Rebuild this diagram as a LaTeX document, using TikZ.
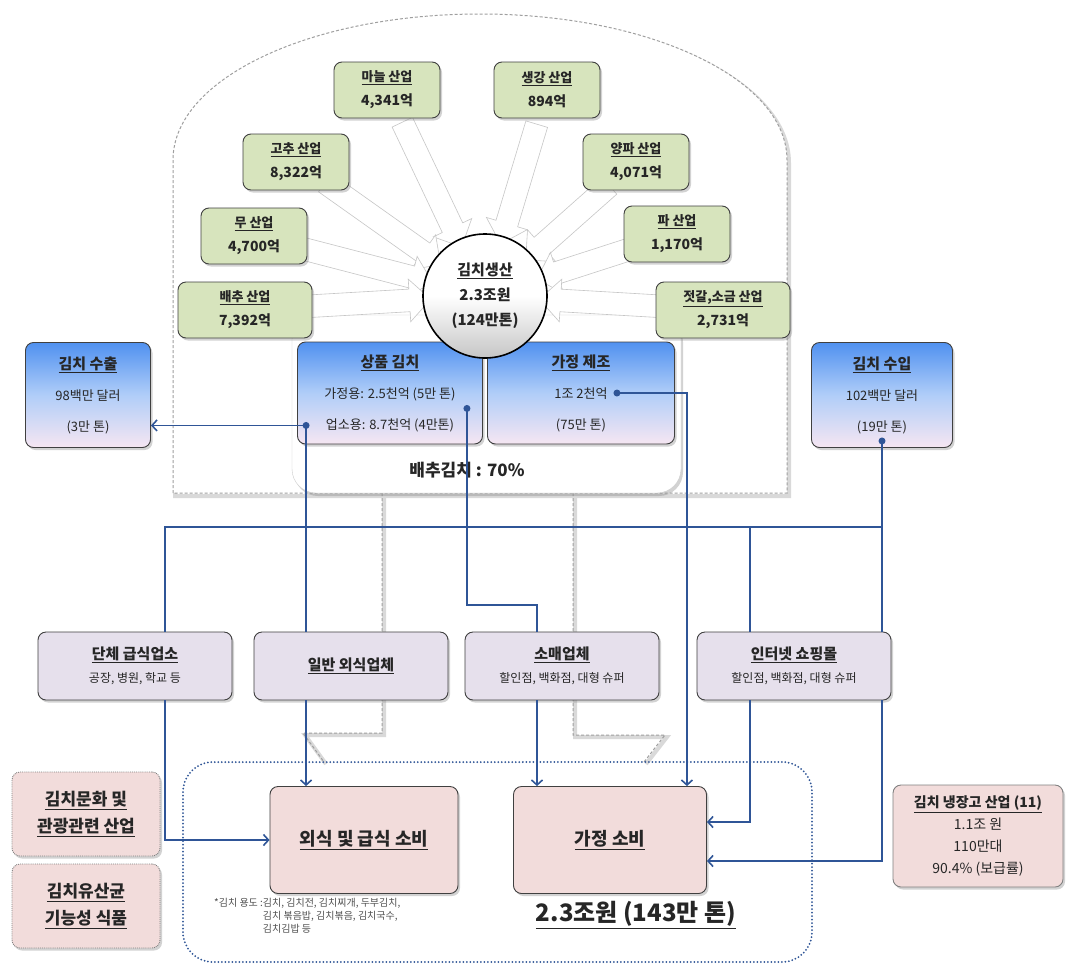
\documentclass[tikz,border=0pt]{standalone}
\usepackage{fontspec}
\setmainfont{Noto Sans CJK KR}
\usetikzlibrary{positioning,calc,shadows,shapes.arrows,arrows.meta}
\pgfdeclarelayer{back}
\pgfdeclarelayer{mid}
\pgfsetlayers{back,mid,main}
\definecolor{leaf}{RGB}{215,228,189}
\definecolor{sky}{RGB}{80,145,240}
\definecolor{blush}{RGB}{246,230,242}
\definecolor{lilac}{RGB}{230,224,236}
\definecolor{rose}{RGB}{242,220,219}
\definecolor{navy}{RGB}{47,85,151}
\definecolor{edge}{RGB}{64,64,64}
\definecolor{ink}{RGB}{38,38,38}
\tikzset{
  panel/.style={draw=edge, line width=0.9pt, rounded corners=8pt, align=center, inner sep=2pt, text=ink,
    drop shadow={opacity=0.35, shadow xshift=2pt, shadow yshift=-2.5pt}},
  industry/.style={panel, fill=leaf, minimum width=106pt, minimum height=56pt, font=\bfseries\fontsize{13}{24}\selectfont},
  trade/.style={panel, top color=sky, bottom color=blush, middle color=sky!45!white, font=\fontsize{13}{31}\selectfont},
  channel/.style={panel, fill=lilac, minimum width=194pt, minimum height=68pt, font=\bfseries\fontsize{15}{23}\selectfont},
  usage/.style={panel, fill=rose, minimum height=107pt, font=\bfseries\fontsize{18}{20}\selectfont},
  extra/.style={panel, fill=rose, draw=gray, densely dotted, minimum width=148pt, minimum height=84pt, font=\bfseries\fontsize{17}{27}\selectfont},
  feed/.style={single arrow, draw=gray!45, fill=white, line width=0.6pt, minimum width=42pt, single arrow head extend=10pt,
    inner xsep=0pt, inner ysep=11pt},
  link/.style={navy, line width=1.6pt},
  flow/.style={link, -{Straight Barb[length=5pt, width=11pt]}},
}
\begin{document}
\begin{tikzpicture}[x=1pt, y=-1pt]
    \useasboundingbox (0,0) rectangle (1076,972);

    % Ingredient industries
    \node[industry] (mane) at (387,90) {\underline{마늘 산업}\\{\fontsize{14}{24}\selectfont 4,341억}};
    \node[industry] (ginger) at (547,90) {\underline{생강 산업}\\{\fontsize{14}{24}\selectfont 894억}};
    \node[industry] (pepper) at (296,162) {\underline{고추 산업}\\{\fontsize{14}{24}\selectfont 8,322억}};
    \node[industry] (onion) at (636,162) {\underline{양파 산업}\\{\fontsize{14}{24}\selectfont 4,071억}};
    \node[industry] (radish) at (254,236) {\underline{무 산업}\\{\fontsize{14}{24}\selectfont 4,700억}};
    \node[industry] (scallion) at (677,234) {\underline{파 산업}\\{\fontsize{14}{24}\selectfont 1,170억}};
    \node[industry, minimum width=134pt] (cabbage) at (245,310) {\underline{배추 산업}\\{\fontsize{14}{24}\selectfont 7,392억}};
    \node[industry, minimum width=134pt] (salt) at (723,310) {\underline{젓갈,소금 산업}\\{\fontsize{14}{24}\selectfont 2,731억}};

    % Product and home made
    \node[trade, minimum width=185pt, minimum height=102pt] (sangpum) at (390,393)
        {{\fontsize{15}{31}\selectfont\bfseries\underline{상품 김치}}\\가정용: 2.5천억 (5만 톤)\\업소용: 8.7천억 (4만톤)};
    \node[trade, minimum width=187pt, minimum height=102pt] (homemade) at (581,393)
        {{\fontsize{15}{31}\selectfont\bfseries\underline{가정 제조}}\\1조 2천억\\(75만 톤)};
    \node[font=\bfseries\fontsize{17}{17}\selectfont, text=ink] (share) at (467,470) {배추김치 : 70\%};

    % Production
    \node[circle, draw=black, line width=1.6pt, minimum size=124pt, top color=white, bottom color=gray!45, middle color=white,
        align=center, text=ink, font=\bfseries\fontsize{15}{25}\selectfont] (prod) at (485,296)
        {\underline{김치생산}\\2.3조원\\(124만톤)};

    % Trade
    \node[trade, minimum width=125pt, minimum height=105pt] (export) at (88,395)
        {{\fontsize{15}{31}\selectfont\bfseries\underline{김치 수출}}\\98백만 달러\\(3만 톤)};
    \node[trade, minimum width=141pt, minimum height=105pt] (import) at (882,395)
        {{\fontsize{15}{31}\selectfont\bfseries\underline{김치 수입}}\\102백만 달러\\(19만 톤)};

    % Channels
    \node[channel] (canteen) at (135,666) {\underline{단체 급식업소}\\{\mdseries\fontsize{12}{13}\selectfont 공장, 병원, 학교 등}};
    \node[channel] (eatout) at (351,666) {\underline{일반 외식업체}};
    \node[channel] (retail) at (562,666) {\underline{소매업체}\\{\mdseries\fontsize{12}{13}\selectfont 할인점, 백화점, 대형 슈퍼}};
    \node[channel] (online) at (794,666) {\underline{인터넷 쇼핑몰}\\{\mdseries\fontsize{12}{13}\selectfont 할인점, 백화점, 대형 슈퍼}};

    % Consumption
    \node[usage, minimum width=188pt] (dineuse) at (364,840) {\underline{외식 및 급식 소비}};
    \node[usage, minimum width=193pt] (homeuse) at (610,840) {\underline{가정 소비}};
    \node[anchor=north west, inner sep=0pt, text=ink!80, font=\fontsize{10}{13}\selectfont] (note) at (214,897)
        {\begin{tabular}{@{}l@{}l@{}}*김치 용도 :\ & 김치, 김치전, 김치찌개, 두부김치,\\ & 김치 볶음밥, 김치볶음, 김치국수,\\ & 김치김밥 등\end{tabular}};
    \node[font=\bfseries\fontsize{24}{24}\selectfont, text=ink] (total) at (636,915) {\underline{2.3조원 (143만 톤)}};

    % Related industries
    \node[extra] (culture) at (86,814) {\underline{김치문화 및}\\\underline{관광관련 산업}};
    \node[extra] (probiotic) at (86,906) {\underline{김치유산균}\\\underline{기능성 식품}};
    \node[panel, fill=rose, draw=gray, minimum width=170pt, minimum height=102pt, font=\fontsize{14}{22}\selectfont] (fridge) at (978,836)
        {{\bfseries\underline{김치 냉장고 산업 (11)}}\\1.1조 원\\110만대\\90.4\% (보급률)};

    % Dome, funnel and frames
    \begin{pgfonlayer}{back}
        \fill[white] (0,0) rectangle (1076,972);
        \draw[gray!30, line width=4pt, shift={(2,3)}] (173,493) -- (173,160) .. controls (173,79) and (310,14) .. (480,14)
            .. controls (650,14) and (787,79) .. (787,160) -- (787,493) -- cycle;
        \draw[gray!75, densely dashed, line width=1pt, fill=white] (173,493) -- (173,160) .. controls (173,79) and (310,14) .. (480,14)
            .. controls (650,14) and (787,79) .. (787,160) -- (787,493) -- cycle;
        \draw[gray!30, line width=4pt, shift={(2,2)}] (382,493) -- (382,733) -- (303,733) -- (324,762);
        \draw[gray!30, line width=4pt, shift={(2,2)}] (573,493) -- (573,735) -- (665,735) -- (644,762);
        \draw[gray!75, densely dashed, line width=1pt] (382,493) -- (382,733) -- (303,733) -- (324,762);
        \draw[gray!75, densely dashed, line width=1pt] (573,493) -- (573,735) -- (665,735) -- (644,762);
        \draw[gray!40, fill=white, rounded corners=24pt, drop shadow={opacity=0.35, shadow xshift=2pt, shadow yshift=-3pt}]
            (292,315) rectangle (681,493);
        \draw[navy, line width=2pt, line cap=round, dash pattern=on 0pt off 3.5pt, rounded corners=30pt] (183,762) rectangle (812,962);
    \end{pgfonlayer}

    % Feed arrows
    \begin{pgfonlayer}{mid}
        \foreach \src in {mane,ginger,pepper,onion,radish,scallion,cabbage,salt}
            \path let \p1 = ($(\src)!30pt!(prod)$), \p2 = ($(prod)!60pt!(\src)$),
                \n1 = {atan2(\y2-\y1,\x2-\x1)}, \n2 = {veclen(\x2-\x1,\y2-\y1)} in
                node[feed, minimum height=\n2, rotate=\n1] (feed\src) at ($(\p1)!0.5!(\p2)$) {};
    \end{pgfonlayer}

    % Connectors
    \coordinate (dotB) at ($(sangpum.south west)+(9,-19)$);
    \coordinate (dotA) at ($(sangpum.south east)+(-16,-36)$);
    \coordinate (dotC) at ($(homemade.east)+(-58,0)$);
    \coordinate (dotD) at ($(import.south)+(0,-7)$);
    \coordinate (kink) at ($(homemade.east)+(12,0)$);
    \coordinate (bend) at (537,605);
    \coordinate (busL) at (165,527);
    \coordinate (busI) at (750,527);

    \draw[flow] (dotB) -- (export.east |- dotB);
    \draw[link] (dotB) -- (dotB |- eatout.north);
    \draw[flow] (dotB |- eatout.south) -- (dotB |- dineuse.north);
    \draw[link] (dotA) |- (bend) -- (bend |- retail.north);
    \draw[flow] (bend |- retail.south) -- (bend |- homeuse.north);
    \draw[flow] (dotC) -- (kink) -- (kink |- homeuse.north);
    \draw[link] (dotD) -- (dotD |- busL) -- (busL) -- (busL |- canteen.north);
    \draw[link] (busI) -- (busI |- online.north);
    \draw[link] (dotD |- busL) -- (dotD |- online.north);
    \draw[flow] (busL |- canteen.south) |- (dineuse.west);
    \draw[flow] (busI |- online.south) |- ($(homeuse.east)+(0,-18)$);
    \draw[flow] (dotD |- online.south) |- ($(homeuse.east)+(0,21)$);
    \foreach \p in {dotA,dotB,dotC,dotD}
        \fill[navy] (\p) circle (3.5pt);
\end{tikzpicture}
\end{document}
